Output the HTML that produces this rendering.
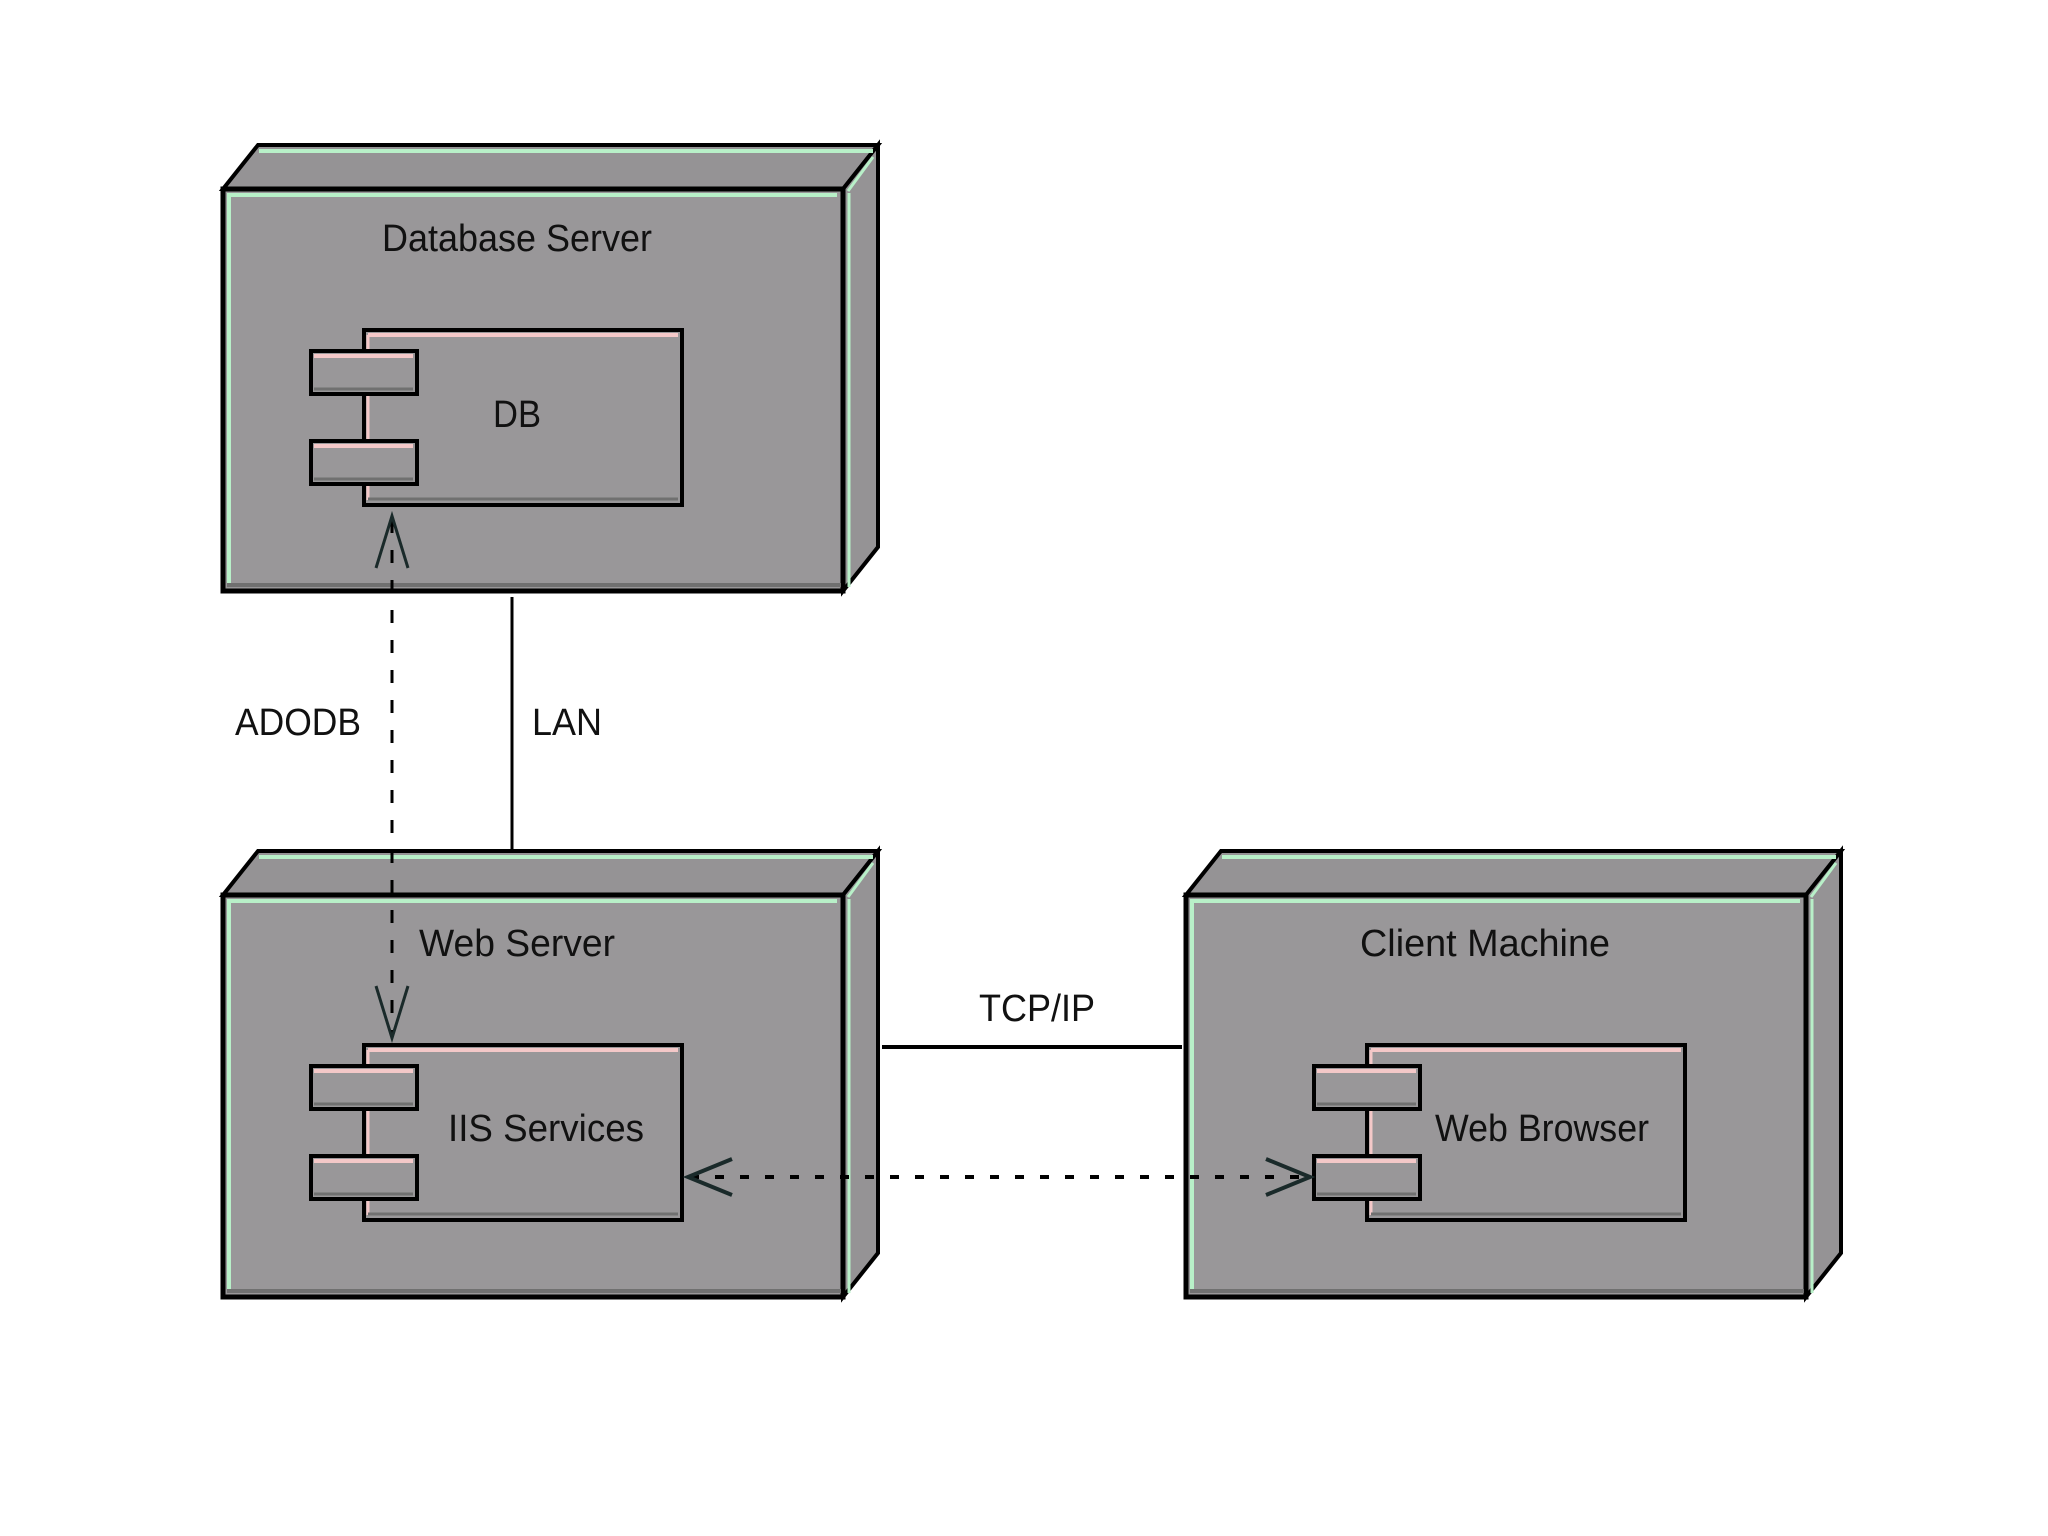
<!DOCTYPE html>
<html><head><meta charset="utf-8"><style>
html,body{margin:0;padding:0;background:#fff;}
svg{display:block;}
text{font-family:"Liberation Sans",sans-serif;font-size:38px;fill:#111;}
</style></head><body>
<svg width="2048" height="1536" viewBox="0 0 2048 1536" xmlns="http://www.w3.org/2000/svg">
<defs>
<g id="node">
  <!-- top face -->
  <polygon points="0,0 35,-44 655,-44 620,0" fill="#959395" stroke="#000" stroke-width="4"/>
  <!-- right face -->
  <polygon points="620,0 655,-44 655,358 620,402" fill="#959395" stroke="#000" stroke-width="4"/>
  <!-- front -->
  <rect x="0" y="0" width="620" height="402" fill="#999799" stroke="#000" stroke-width="5"/>
  <line x1="4" y1="6" x2="614" y2="6" stroke="#b8f0c8" stroke-width="4"/>
  <line x1="6" y1="6" x2="6" y2="398" stroke="#b8f0c8" stroke-width="4"/>
  <line x1="36" y1="-38" x2="650" y2="-38" stroke="#b8f0c8" stroke-width="4"/>
  <line x1="625" y1="2" x2="650" y2="-32" stroke="#b8f0c8" stroke-width="3"/>
  <line x1="626" y1="4" x2="626" y2="398" stroke="#b8f0c8" stroke-width="3"/>
  <line x1="4" y1="396" x2="618" y2="396" stroke="#707070" stroke-width="4"/>
</g>
<g id="comp">
  <rect x="0" y="0" width="318" height="175" fill="#999799" stroke="#000" stroke-width="4"/>
  <line x1="4" y1="5" x2="314" y2="5" stroke="#f4c8c8" stroke-width="4"/>
  <line x1="4" y1="5" x2="4" y2="170" stroke="#f4c8c8" stroke-width="3"/>
  <line x1="4" y1="169" x2="314" y2="169" stroke="#707070" stroke-width="3"/>
  <rect x="-53" y="21" width="106" height="43" fill="#999799" stroke="#000" stroke-width="4"/>
  <line x1="-50" y1="26" x2="49" y2="26" stroke="#f4c8c8" stroke-width="4"/>
  <line x1="-50" y1="59" x2="49" y2="59" stroke="#707070" stroke-width="3"/>
  <rect x="-53" y="111" width="106" height="43" fill="#999799" stroke="#000" stroke-width="4"/>
  <line x1="-50" y1="116" x2="49" y2="116" stroke="#f4c8c8" stroke-width="4"/>
  <line x1="-50" y1="149" x2="49" y2="149" stroke="#707070" stroke-width="3"/>
</g>
</defs>

<use href="#node" x="223" y="189"/>
<use href="#node" x="223" y="895"/>
<use href="#node" x="1186" y="895"/>

<use href="#comp" x="364" y="330"/>
<use href="#comp" x="364" y="1045"/>
<use href="#comp" x="1367" y="1045"/>

<text x="517" y="251" text-anchor="middle" textLength="270" lengthAdjust="spacingAndGlyphs">Database Server</text>
<text x="517" y="427" text-anchor="middle" textLength="48" lengthAdjust="spacingAndGlyphs">DB</text>
<text x="517" y="956" text-anchor="middle" textLength="196" lengthAdjust="spacingAndGlyphs">Web Server</text>
<text x="1485" y="956" text-anchor="middle" textLength="250" lengthAdjust="spacingAndGlyphs">Client Machine</text>
<text x="546" y="1141" text-anchor="middle" textLength="196" lengthAdjust="spacingAndGlyphs">IIS Services</text>
<text x="1542" y="1141" text-anchor="middle" textLength="214" lengthAdjust="spacingAndGlyphs">Web Browser</text>
<text x="298" y="735" text-anchor="middle" textLength="126" lengthAdjust="spacingAndGlyphs">ADODB</text>
<text x="567" y="735" text-anchor="middle" textLength="70" lengthAdjust="spacingAndGlyphs">LAN</text>
<text x="1037" y="1021" text-anchor="middle" textLength="116" lengthAdjust="spacingAndGlyphs">TCP/IP</text>

<!-- LAN -->
<line x1="512" y1="597" x2="512" y2="849" stroke="#000" stroke-width="3"/>
<!-- ADODB dashed -->
<line x1="392" y1="520" x2="392" y2="1036" stroke="#000" stroke-width="3" stroke-dasharray="13 17"/>
<polyline points="376,568 392,516 408,568" fill="none" stroke="#1a2a2a" stroke-width="3"/>
<polyline points="376,986 392,1038 408,986" fill="none" stroke="#1a2a2a" stroke-width="3"/>
<!-- TCP/IP -->
<line x1="882" y1="1047" x2="1182" y2="1047" stroke="#000" stroke-width="4"/>
<!-- dotted -->
<line x1="690" y1="1177" x2="1308" y2="1177" stroke="#000" stroke-width="4" stroke-dasharray="9 16"/>
<polyline points="732,1159 688,1177 732,1195" fill="none" stroke="#1a2a2a" stroke-width="4"/>
<polyline points="1266,1159 1310,1177 1266,1195" fill="none" stroke="#1a2a2a" stroke-width="4"/>
</svg>
</body></html>
